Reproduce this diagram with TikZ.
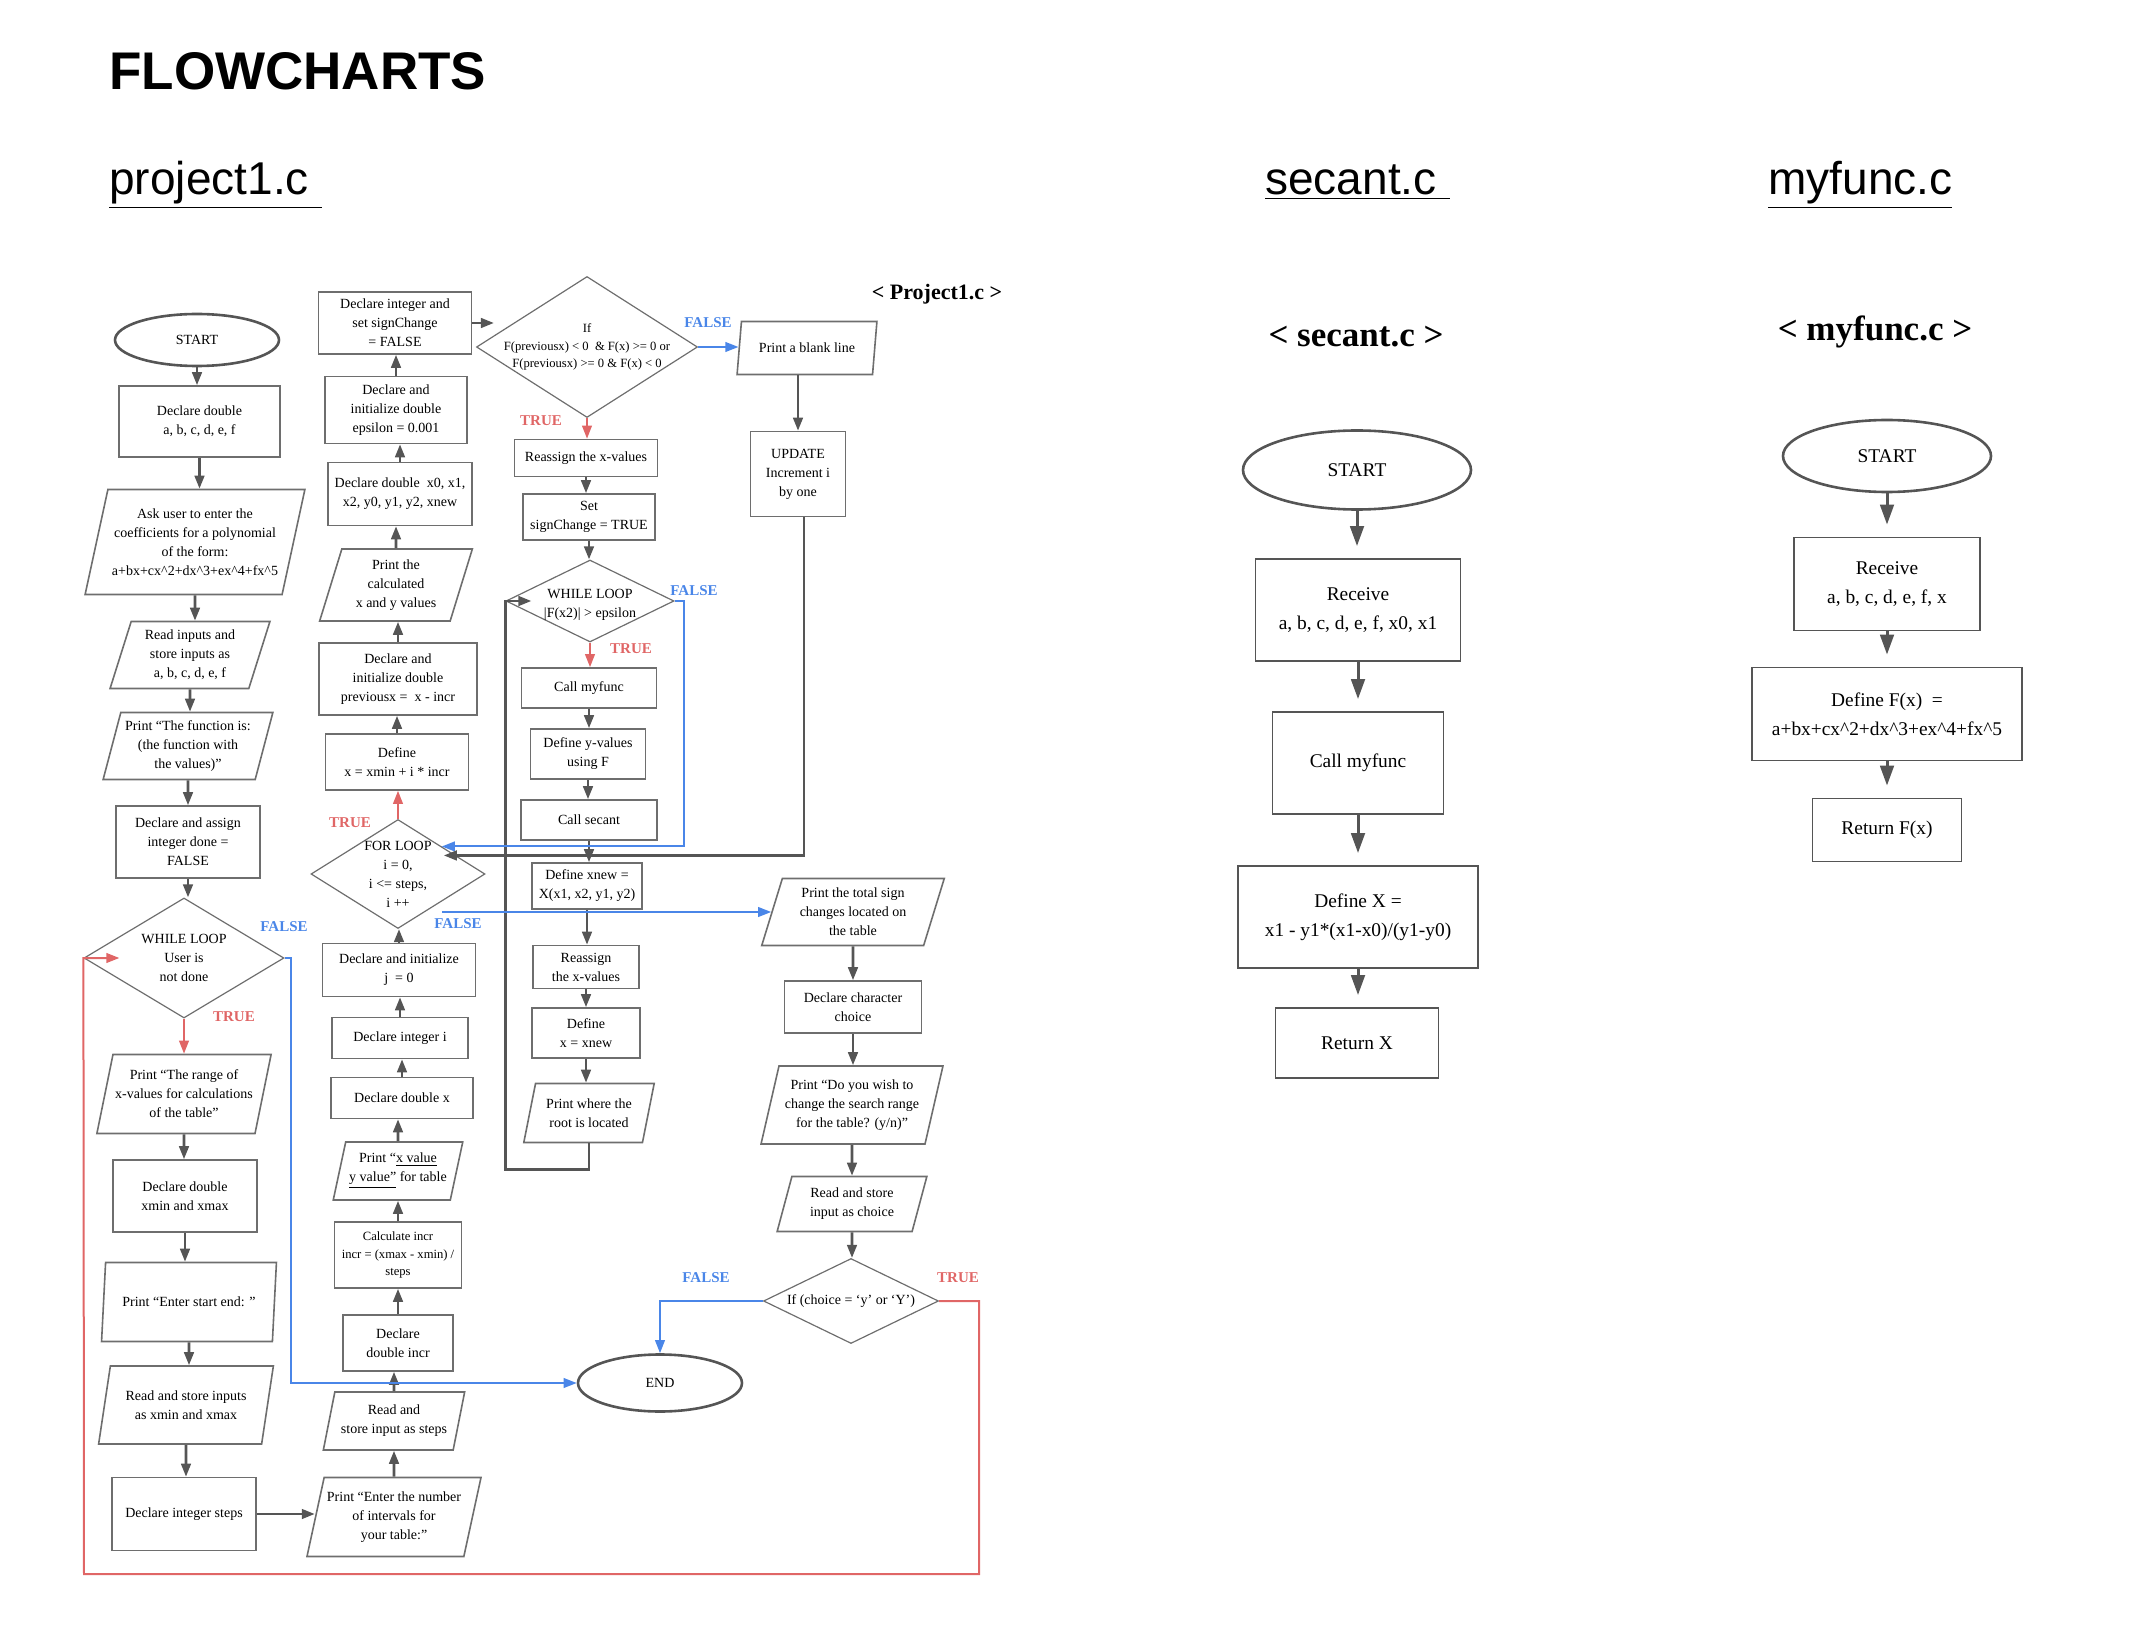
\documentclass[tikz,border=0pt]{standalone}
\usepackage{fontspec}
\setmainfont{Liberation Serif}
\newfontfamily\headfont{Liberation Sans}
\usetikzlibrary{shapes.geometric,arrows.meta,calc}

\definecolor{arrgray}{RGB}{85,85,85}
\definecolor{edgegray}{RGB}{110,110,110}
\definecolor{tred}{RGB}{224,102,102}
\definecolor{fblue}{RGB}{74,134,232}

\newcommand{\pjfont}{\fontsize{7}{9.5}\selectfont}
\newcommand{\pjsmall}{\fontsize{6.3}{8.6}\selectfont}
\newcommand{\fnfont}{\fontsize{9.7}{14.5}\selectfont}
\newcommand{\tagfont}{\fontsize{7.5}{9}\selectfont\bfseries}

\begin{document}
\begin{tikzpicture}[x=0.5pt,y=0.5pt,yscale=-1,
 box/.style 2 args={draw=edgegray,line width=0.8pt,minimum width=#1,minimum height=#2,inner sep=0pt,align=center,font=\pjfont},
 io/.style 2 args={trapezium,trapezium left angle=72,trapezium right angle=108,trapezium stretches=true,draw=edgegray,line width=0.8pt,minimum width=#1,minimum height=#2,inner sep=0pt,align=center,font=\pjfont},
 decision/.style 2 args={diamond,draw=edgegray,line width=0.6pt,minimum width=#1,minimum height=#2,inner sep=0pt},
 terminal/.style 2 args={ellipse,draw=arrgray,line width=1.3pt,minimum width=#1,minimum height=#2,inner sep=0pt,font=\pjfont},
 fnbox/.style 2 args={draw=arrgray,line width=0.9pt,minimum width=#1,minimum height=#2,inner sep=0pt,align=center,font=\fnfont},
 inlbl/.style={align=center,font=\pjfont,inner sep=0pt},
 arr/.style={draw=arrgray,line width=1.3pt,-{Triangle[length=6.5pt,width=4.8pt]}},
 truearr/.style={draw=tred,line width=1pt,-{Triangle[length=6.5pt,width=4.8pt]}},
 falsearr/.style={draw=fblue,line width=1pt,-{Triangle[length=6.5pt,width=4.8pt]}},
 bigarr/.style={draw=arrgray,line width=1.5pt,-{Triangle[length=10pt,width=6.8pt]},shorten >=6pt},
 truetag/.style={text=tred,font=\tagfont,inner sep=0pt},
 falsetag/.style={text=fblue,font=\tagfont,inner sep=0pt},
 filetag/.style={font=\bfseries\fontsize{17.5}{20}\selectfont,inner sep=0pt},
 subhead/.style={anchor=base west,font=\headfont\fontsize{23}{26}\selectfont,inner sep=0pt}
]
\path[use as bounding box] (0,0) rectangle (2138,1642);

% Headings
\node[anchor=base west,inner sep=0pt,font=\headfont\bfseries\fontsize{26.5}{30}\selectfont] (title) at (109,90) {FLOWCHARTS};
\node[subhead] (hproj) at (109,195) {\underline{project1.c\ }};
\node[subhead] (hsec) at (1265,195) {\underline{secant.c\ }};
\node[subhead] (hfun) at (1768,195) {\underline{myfunc.c}};

%Shape: project1.c, first column
\node[terminal={82pt}{26pt}] (start1) at (197,340) {START};
\node[box={80.5pt}{35.5pt}] (dd) at (199.5,421.5) {Declare double\\a, b, c, d, e, f};
\node[io={110pt}{52.5pt}] (ask) at (195,542) {Ask user to enter the\\coefficients for a polynomial\\of the form:\\a+bx+cx\textasciicircum2+dx\textasciicircum3+ex\textasciicircum4+fx\textasciicircum5};
\node[io={80pt}{33.5pt}] (rin) at (190,655) {Read inputs and\\store inputs as\\a, b, c, d, e, f};
\node[io={85pt}{33.5pt}] (pfun) at (188,746) {Print “The function is:\\(the function with\\the values)”};
\node[box={72pt}{36pt}] (done) at (188,842) {Declare and assign\\integer done =\\FALSE};
\node[decision={100pt}{60pt},label={[inlbl]center:{WHILE LOOP\\User is\\not done}}] (wl1) at (184,958) {};
\node[io={87.5pt}{39.5pt}] (prange) at (184,1094) {Print “The range of\\x-values for calculations\\of the table”};
\node[box={72pt}{36pt}] (dxm) at (185,1196) {Declare double\\xmin and xmax};
\node[io={87.5pt}{39.5pt}] (pse) at (189,1302) {Print “Enter start end: ”};
\node[io={87.5pt}{39pt}] (rxm) at (186,1405) {Read and store inputs\\as xmin and xmax};
\node[box={72pt}{36.5pt}] (dsteps) at (184,1514) {Declare integer steps};

%Shape: project1.c, second column (read upwards)
\node[io={87.5pt}{39.5pt}] (pint) at (394,1517) {Print “Enter the number\\of intervals for\\your table:”};
\node[io={71pt}{29pt}] (rsteps) at (394,1421) {Read and\\store input as steps};
\node[box={55pt}{28pt}] (dincr) at (398,1343) {Declare\\double incr};
\node[box={63.5pt}{33pt},font=\pjsmall] (cincr) at (398,1255) {Calculate incr\\incr = (xmax - xmin) /\\steps};
\node[io={65pt}{29pt}] (pxy) at (398,1171) {Print “\underline{x value}\\\underline{y value”} for table};
\node[box={71pt}{20.5pt}] (dx) at (402,1098) {Declare double x};
\node[box={68pt}{20.5pt}] (di) at (400,1038) {Declare integer i};
\node[box={76.5pt}{26.5pt}] (dj) at (399,970) {Declare and initialize\\j \ = 0};
\node[decision={87pt}{54.5pt},label={[inlbl]center:{FOR LOOP\\i = 0,\\i <= steps,\\i ++}}] (for) at (398,874) {};
\node[box={71.5pt}{28pt}] (defx) at (397,762) {Define\\x = xmin + i * incr};
\node[box={79pt}{36pt}] (prev) at (398,679) {Declare and\\initialize double\\previousx = \ x - incr};
\node[io={76.5pt}{36pt}] (pcalc) at (396,585) {Print the\\calculated\\x and y values};
\node[box={72pt}{31.5pt}] (dx0) at (400,494) {Declare double \ x0, x1,\\x2, y0, y1, y2, xnew};
\node[box={71pt}{33.5pt}] (eps) at (396,410) {Declare and\\initialize double\\epsilon = 0.001};
\node[box={76.5pt}{31pt}] (sc) at (395,323) {Declare integer and\\set signChange\\= FALSE};

%Shape: project1.c, third column
\node[decision={110.5pt}{70.5pt},label={[inlbl,font=\pjsmall]center:{If\\F(previousx) < 0 \ \& F(x) >= 0 or\\F(previousx) >= 0 \& F(x) < 0}}] (ifd) at (587,347) {};
\node[box={71.5pt}{18.5pt}] (reas) at (586,458) {Reassign the x-values};
\node[box={66pt}{23pt}] (setsc) at (589,517) {Set\\signChange = TRUE};
\node[decision={84pt}{41pt},label={[inlbl,yshift=-2pt]center:{WHILE LOOP\\|F(x2)| > epsilon}}] (wl2) at (590,601) {};
\node[box={67.5pt}{20pt}] (cmf) at (589,688) {Call myfunc};
\node[box={57.5pt}{25pt}] (defy) at (588,754) {Define y-values\\using F};
\node[box={68pt}{20pt}] (csec) at (589,820) {Call secant};
\node[box={55pt}{23pt}] (dxnew) at (587,886) {Define xnew =\\X(x1, x2, y1, y2)};
\node[box={53pt}{21.5pt}] (reas2) at (586,967) {Reassign\\the x-values};
\node[box={54pt}{25pt}] (defxn) at (586,1033) {Define\\x = xnew};
\node[io={65.5pt}{29.5pt}] (proot) at (589,1113) {Print where the\\root is located};

%Shape: project1.c, fourth column
\node[filetag,font=\bfseries\fontsize{11}{13}\selectfont] (ptag) at (937,294) {< Project1.c >};
\node[io={70pt}{26.5pt}] (pblank) at (807,348) {Print a blank line};
\node[box={47.5pt}{42.5pt}] (upd) at (798,474) {UPDATE\\Increment i\\by one};
\node[io={91.5pt}{33.5pt}] (psum) at (853,912) {Print the total sign\\changes located on\\the table};
\node[box={68.5pt}{26pt}] (dch) at (853,1007) {Declare character\\choice};
\node[io={91.5pt}{39pt}] (pwish) at (852,1105) {Print “Do you wish to\\change the search range\\for the table? (y/n)”};
\node[io={75pt}{27.5pt}] (rch) at (852,1204) {Read and store\\input as choice};
\node[decision={87.5pt}{42.5pt},label={[inlbl]center:{If (choice = ‘y’ or ‘Y’)}}] (ifc) at (851,1301) {};
\node[terminal={82pt}{28.5pt}] (fin) at (660,1383) {END};
\coordinate (redcorner) at (84,1574);

% Text Node
\node[falsetag] (f1) at (284,927) {FALSE};
\node[truetag] (t1) at (234,1017) {TRUE};
\node[truetag] (t2) at (350,823) {TRUE};
\node[falsetag] (f2) at (458,924) {FALSE};
\node[falsetag] (f3) at (708,323) {FALSE};
\node[truetag] (t3) at (541,421) {TRUE};
\node[falsetag] (f4) at (694,591) {FALSE};
\node[truetag] (t4) at (631,649) {TRUE};
\node[falsetag] (f5) at (706,1278) {FALSE};
\node[truetag] (t5) at (958,1278) {TRUE};

%Straight Lines: first column
\draw[arr] (start1) -- (start1 |- dd.north);
\draw[arr] (dd) -- (dd |- ask.north);
\draw[arr] (ask) -- (ask |- rin.north);
\draw[arr] (rin) -- (rin |- pfun.north);
\draw[arr] (pfun) -- (pfun |- done.north);
\draw[arr] (done) -- (done |- wl1.north);
\draw[truearr] (wl1) -- (wl1 |- prange.north);
\draw[arr] (prange) -- (prange |- dxm.north);
\draw[arr] (dxm) -- (dxm |- pse.north);
\draw[arr] (pse) -- (pse |- rxm.north);
\draw[arr] (rxm) -- (rxm |- dsteps.north);
\draw[arr] (dsteps) -- (dsteps -| pint.west);

%Straight Lines: second column
\draw[arr] (pint) -- (pint |- rsteps.south);
\draw[arr] (rsteps) -- (rsteps |- dincr.south);
\draw[arr] (dincr) -- (dincr |- cincr.south);
\draw[arr] (cincr) -- (cincr |- pxy.south);
\draw[arr] (pxy) -- (pxy |- dx.south);
\draw[arr] (dx) -- (dx |- di.south);
\draw[arr] (di) -- (di |- dj.south);
\draw[arr] (dj) -- (dj |- for.south);
\draw[truearr] (for) -- (for |- defx.south);
\draw[arr] (defx) -- (defx |- prev.south);
\draw[arr] (prev) -- (prev |- pcalc.south);
\draw[arr] (pcalc) -- (pcalc |- dx0.south);
\draw[arr] (dx0) -- (dx0 |- eps.south);
\draw[arr] (eps) -- (eps |- sc.south);
\draw[arr] (sc) -- ($(sc.east -| ifd.west)+(18,0)$);

%Straight Lines: third column
\draw[falsearr] (ifd.east) -- (ifd.east -| pblank.west);
\draw[truearr] (ifd) -- (ifd |- reas.north);
\draw[arr] (reas) -- (reas |- setsc.north);
\draw[arr] (setsc) -- (setsc |- wl2.north);
\draw[truearr] (wl2) -- (wl2 |- cmf.north);
\draw[arr] (cmf) -- (cmf |- defy.north);
\draw[arr] (defy) -- (defy |- csec.north);
\draw[arr] (csec) -- (csec |- dxnew.north);
\draw[arr] (dxnew) -- (dxnew |- reas2.north);
\draw[arr] (reas2) -- (reas2 |- defxn.north);
\draw[arr] (defxn) -- (defxn |- proot.north);
\draw[arr] (proot.south) -- ++(0,26) -| (wl2.west) -- ++(26,0);
\draw[falsearr] (wl2.east) -- ++(9,0) |- (for.north east);

%Straight Lines: fourth column
\draw[arr] (upd |- pblank.south) -- (upd);
\draw[arr] ($(upd.south)+(6,0)$) |- ($(for.north east)+(2,9)$);
\draw[falsearr] (for.south east |- psum.west) -- (psum.west);
\draw[arr] (psum) -- (psum |- dch.north);
\draw[arr] (dch) -- (dch |- pwish.north);
\draw[arr] (pwish) -- (pwish |- rch.north);
\draw[arr] (rch) -- (rch |- ifc.north);
\draw[falsearr] (ifc.west) -| (fin.north);
\draw[falsearr] (wl1.east) -- ++(6,0) |- (fin.west);
\draw[truearr] (ifc.east) -- ++(40,0) |- (redcorner) -- (wl1.west) -- ++(36,0);

%Shape: secant.c
\node[filetag] (stag) at (1356,337) {< secant.c >};
\node[terminal={114pt}{39.5pt},font=\fnfont] (sstart) at (1357,470) {START};
\node[fnbox={102.5pt}{51pt}] (srecv) at (1358,610) {Receive\\a, b, c, d, e, f, x0, x1};
\node[fnbox={85.5pt}{51pt}] (scall) at (1358,763) {Call myfunc};
\node[fnbox={120pt}{51pt}] (sdef) at (1358,917) {Define X =\\x1 - y1*(x1-x0)/(y1-y0)};
\node[fnbox={81.5pt}{35pt}] (sret) at (1357,1043) {Return X};
\draw[bigarr] (sstart) -- (sstart |- srecv.north);
\draw[bigarr] (srecv) -- (srecv |- scall.north);
\draw[bigarr] (scall) -- (scall |- sdef.north);
\draw[bigarr] (sdef) -- (sdef |- sret.north);

%Shape: myfunc.c
\node[filetag] (mtag) at (1875,332) {< myfunc.c >};
\node[terminal={104pt}{36pt},font=\fnfont] (mstart) at (1887,456) {START};
\node[fnbox={93pt}{46.5pt}] (mrecv) at (1887,584) {Receive\\a, b, c, d, e, f, x};
\node[fnbox={135pt}{46.5pt}] (mdef) at (1887,714) {Define F(x) \ =\\a+bx+cx\textasciicircum2+dx\textasciicircum3+ex\textasciicircum4+fx\textasciicircum5};
\node[fnbox={74.5pt}{31.5pt}] (mret) at (1887,830) {Return F(x)};
\draw[bigarr] (mstart) -- (mstart |- mrecv.north);
\draw[bigarr] (mrecv) -- (mrecv |- mdef.north);
\draw[bigarr] (mdef) -- (mdef |- mret.north);
\end{tikzpicture}
\end{document}
